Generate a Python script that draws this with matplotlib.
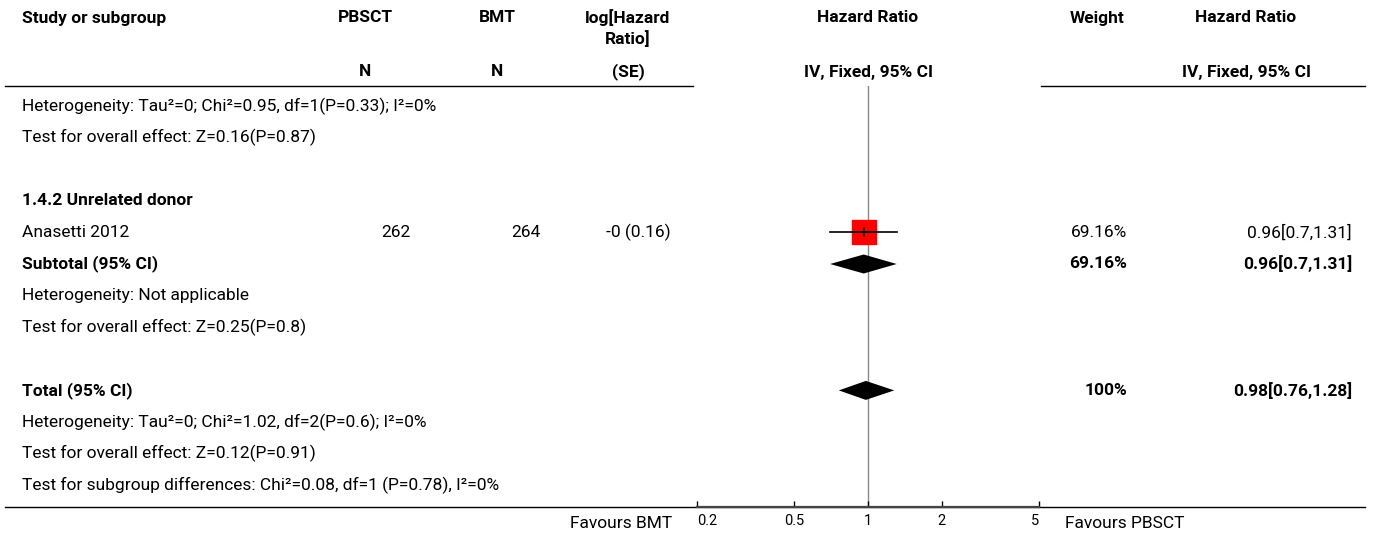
import matplotlib
matplotlib.use('Agg')
import matplotlib.pyplot as plt
import numpy as np

plt.rcParams['font.family'] = ['Roboto', 'DejaVu Sans']

W, H = 1373, 537

# ---- data ----
headers = ['Study or subgroup', 'PBSCT', 'BMT', 'log[Hazard', 'Hazard Ratio', 'Weight', 'Hazard Ratio']
header2 = ['', '', '', 'Ratio]', '', '', '']
subheaders = ['', 'N', 'N', '(SE)', 'IV, Fixed, 95% CI', '', 'IV, Fixed, 95% CI']

studies = ['Anasetti 2012']
pbsct_n = [262]
bmt_n = [264]
loghr_se = ['-0 (0.16)']
study_weight = ['69.16%']
study_hr = [0.96]
study_lo = [0.7]
study_hi = [1.31]

sub_label = 'Subtotal (95% CI)'
sub_weight = '69.16%'
sub_hr, sub_lo, sub_hi = 0.96, 0.7, 1.31

tot_label = 'Total (95% CI)'
tot_weight = '100%'
tot_hr, tot_lo, tot_hi = 0.98, 0.76, 1.28

notes_top = ['Heterogeneity: Tau²=0; Chi²=0.95, df=1(P=0.33); I²=0%',
             'Test for overall effect: Z=0.16(P=0.87)']
group_title = '1.4.2 Unrelated donor'
notes_sub = ['Heterogeneity: Not applicable',
             'Test for overall effect: Z=0.25(P=0.8)']
notes_tot = ['Heterogeneity: Tau²=0; Chi²=1.02, df=2(P=0.6); I²=0%',
             'Test for overall effect: Z=0.12(P=0.91)',
             'Test for subgroup differences: Chi²=0.08, df=1 (P=0.78), I²=0%']

xticks = [0.2, 0.5, 1, 2, 5]
xticklabels = ['0.2', '0.5', '1', '2', '5']
left_fav = 'Favours BMT'
right_fav = 'Favours PBSCT'

# ---- layout (pixels) ----
FS = 12.5
col_x = [22, 365, 497, 628, 868, 1097, 1246]
val_right = [None, 410, 540, 671, None, 1127, 1352]
plot_l, plot_r = 697, 1039
head_line, axis_y = 86, 507
row0, step = 106, 31.6


def ry(i):
    return row0 + i * step


fig = plt.figure(figsize=(W / 100, H / 100), dpi=100)
ax = fig.add_axes([0, 0, 1, 1])
ax.set_xlim(0, W)
ax.set_ylim(H, 0)
ax.axis('off')

# headers
for x, h, h2, s in zip(col_x, headers, header2, subheaders):
    ha = 'left' if x == col_x[0] else 'center'
    ax.text(x, 18, h, ha=ha, va='center', fontsize=FS, fontweight='bold')
    if h2:
        ax.text(x, 39, h2, ha=ha, va='center', fontsize=FS, fontweight='bold')
    if s:
        ax.text(x, 72, s, ha='center', va='center', fontsize=FS, fontweight='bold')
ax.plot([5, plot_l - 4], [head_line, head_line], color='black', lw=1)
ax.plot([plot_r + 2, 1365], [head_line, head_line], color='black', lw=1)

# text rows
for i, t in enumerate(notes_top):
    ax.text(22, ry(i), t, va='center', fontsize=FS)
ax.text(22, ry(3), group_title, va='center', fontsize=FS, fontweight='bold')
for j, s in enumerate(studies):
    y = ry(4 + j)
    ax.text(22, y, s, va='center', fontsize=FS)
    ax.text(val_right[1], y, str(pbsct_n[j]), ha='right', va='center', fontsize=FS)
    ax.text(val_right[2], y, str(bmt_n[j]), ha='right', va='center', fontsize=FS)
    ax.text(val_right[3], y, loghr_se[j], ha='right', va='center', fontsize=FS)
    ax.text(val_right[5], y, study_weight[j], ha='right', va='center', fontsize=FS)
    ax.text(val_right[6], y, f'{study_hr[j]:g}[{study_lo[j]:g},{study_hi[j]:g}]',
            ha='right', va='center', fontsize=FS)
y = ry(5)
ax.text(22, y, sub_label, va='center', fontsize=FS, fontweight='bold')
ax.text(val_right[5], y, sub_weight, ha='right', va='center', fontsize=FS, fontweight='bold')
ax.text(val_right[6], y, f'{sub_hr:g}[{sub_lo:g},{sub_hi:g}]', ha='right', va='center',
        fontsize=FS, fontweight='bold')
for i, t in enumerate(notes_sub):
    ax.text(22, ry(6 + i), t, va='center', fontsize=FS)
y = ry(9)
ax.text(22, y, tot_label, va='center', fontsize=FS, fontweight='bold')
ax.text(val_right[5], y, tot_weight, ha='right', va='center', fontsize=FS, fontweight='bold')
ax.text(val_right[6], y, f'{tot_hr:g}[{tot_lo:g},{tot_hi:g}]', ha='right', va='center',
        fontsize=FS, fontweight='bold')
for i, t in enumerate(notes_tot):
    ax.text(22, ry(10 + i), t, va='center', fontsize=FS)

# bottom axis line
ax.plot([5, 1365], [axis_y, axis_y], color='black', lw=1)
ax.text(672, 524, left_fav, ha='right', va='center', fontsize=FS)
ax.text(1065, 524, right_fav, ha='left', va='center', fontsize=FS)

# ---- forest panel ----
fa = fig.add_axes([plot_l / W, (H - axis_y) / H, (plot_r - plot_l) / W, (axis_y - head_line) / H])
fa.set_xscale('log')
fa.set_xlim(0.2, 5)
fa.set_ylim(axis_y, head_line)
fa.patch.set_alpha(0)
for s in ['top', 'left', 'right']:
    fa.spines[s].set_visible(False)
fa.spines['bottom'].set_linewidth(1.6)
fa.spines['bottom'].set_color('#444444')
fa.set_yticks([])
fa.minorticks_off()
fa.set_xticks(xticks)
fa.set_xticklabels(xticklabels, fontsize=10.5)
fa.tick_params(axis='x', which='major', direction='in', length=4, width=1, pad=5)
fa.tick_params(axis='x', which='minor', bottom=False, labelbottom=False)
tl = fa.get_xticklabels()
tl[0].set_ha('left')
tl[-1].set_ha('right')

fa.axvline(1, color='#888888', lw=1, zorder=1)

for j in range(len(studies)):
    y = ry(4 + j)
    fa.plot([study_lo[j], study_hi[j]], [y, y], color='black', lw=1.2, zorder=3)
    fa.scatter([study_hr[j]], [y], marker='s', s=23 ** 2 * 0.52, color='red', zorder=2)
    fa.plot([study_hr[j], study_hr[j]], [y - 4, y + 4], color='black', lw=1.2, zorder=4)


def diamond(hr, lo, hi, y, h=9.5):
    fa.fill([lo, hr, hi, hr], [y, y - h, y, y + h], color='black', zorder=3, lw=0)


diamond(sub_hr, sub_lo, sub_hi, ry(5))
diamond(tot_hr, tot_lo, tot_hi, ry(9))

fig.savefig('out.png', dpi=100)
